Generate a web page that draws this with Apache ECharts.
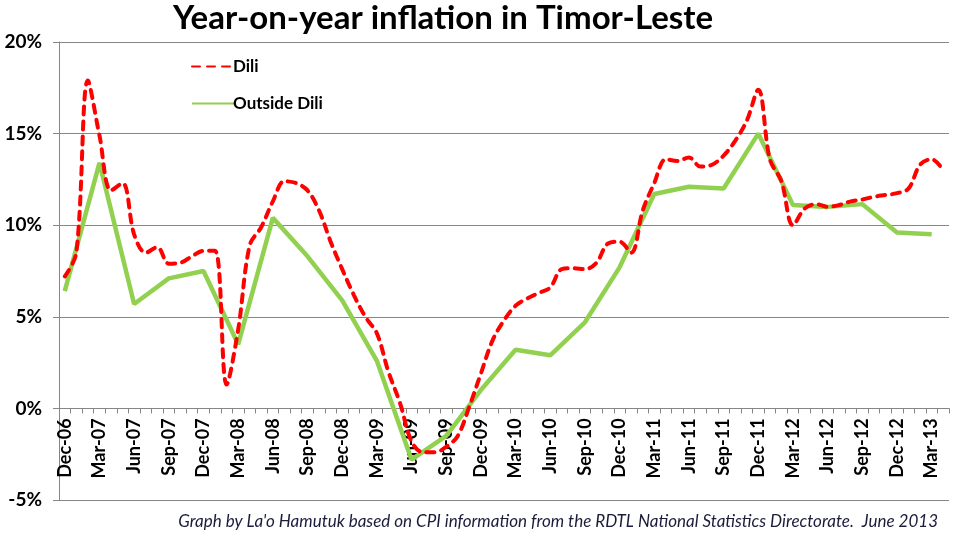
<!DOCTYPE html>
<html>
<head>
<meta charset="utf-8">
<script src="https://cdn.jsdelivr.net/npm/echarts@6/dist/echarts.min.js"></script>
<style>
html,body{margin:0;padding:0;background:#fff;}
#chart{width:954px;height:537px;}
</style>
</head>
<body>
<div id="chart"></div>
<script>
// Monthly categories: Dec-06 .. Apr-13
const monthNames = ['Jan','Feb','Mar','Apr','May','Jun','Jul','Aug','Sep','Oct','Nov','Dec'];
const startYear = 2006, startMonth = 11, monthCount = 77;

// Dili, monthly year-on-year inflation (%)
const dili = [
  7.2, 8.5, 17.9, 14.9, 11.9, 12.3, 9.5, 8.5, 8.8, 7.9, 7.95, 8.3,
  8.6, 8.6, 1.3, 4.3, 8.9, 9.9, 11.3, 12.4, 12.3, 11.9, 10.8, 9.1,
  7.6, 6.2, 5.0, 4.1, 2.0, 0.3, -1.8, -2.4, -2.4, -2.1, -1.5, 0.1,
  1.9, 3.7, 4.8, 5.6, 6.0, 6.3, 6.6, 7.6, 7.65, 7.6, 7.95, 9.0,
  9.1, 8.5, 10.8, 12.3, 13.6, 13.5, 13.7, 13.2, 13.3, 13.8, 14.6, 15.7,
  17.4, 13.6, 12.4, 10.0, 10.9, 11.15, 11.0, 11.1, 11.3, 11.4, 11.55, 11.65,
  11.75, 12.0, 13.3, 13.6, 13.0
];

// Outside Dili, quarterly (Dec-06, Mar-07, ... Mar-13)
const outsideDiliQuarterly = [
  6.4, 13.4, 5.7, 7.1, 7.5, 3.5, 10.4, 8.3, 5.9, 2.6, -2.8, -1.5,
  1.0, 3.2, 2.9, 4.7, 7.7, 11.7, 12.1, 12.0, 15.0, 11.1, 11.0, 11.15,
  9.6, 9.5
];

const yTicks = { min: -5, max: 20, interval: 5 };

const categories = [];
for (let i = 0; i < monthCount; i++) {
  const m = (startMonth + i) % 12;
  const y = startYear + Math.floor((startMonth + i) / 12);
  categories.push(monthNames[m] + '-' + String(y % 100).padStart(2, '0'));
}
const outsideDili = categories.map((c, i) => (i % 3 === 0 && outsideDiliQuarterly[i / 3] !== undefined) ? outsideDiliQuarterly[i / 3] : null);

const chart = echarts.init(document.getElementById('chart'));
const FONT = 'Lato';
const gridTop = 42, gridBottom = 37, H = 537;
const plotH = H - gridTop - gridBottom;
const zeroOffset = plotH * (0 - yTicks.min) / (yTicks.max - yTicks.min);

chart.setOption({
  animation: false,
  backgroundColor: '#fff',
  title: {
    text: 'Year-on-year inflation in Timor-Leste',
    left: 438, top: -3, textAlign: 'center',
    textStyle: { fontFamily: FONT, fontWeight: 'bold', fontSize: 33, color: '#000' }
  },
  legend: {
    orient: 'vertical', left: 186, top: 53, itemWidth: 42, itemHeight: 14, itemGap: 20,
    itemStyle: { opacity: 0 },
    textStyle: { fontFamily: FONT, fontWeight: 'bold', fontSize: 17, color: '#000', padding: [0,0,0,-6] },
    data: ['Dili', 'Outside Dili']
  },
  grid: { left: 59, right: 5, top: gridTop, bottom: gridBottom, containLabel: false, outerBoundsMode: 'none' },
  xAxis: {
    type: 'category', data: categories, boundaryGap: true,
    offset: -zeroOffset,
    axisLine: { onZero: false, lineStyle: { color: '#868686', width: 1 } },
    axisTick: { show: true, interval: 0, length: 5, lineStyle: { color: '#868686' } },
    axisLabel: { interval: 2, rotate: 90, margin: 10, fontFamily: FONT, fontWeight: 'bold', fontSize: 18, color: '#000' }
  },
  yAxis: {
    type: 'value', min: yTicks.min, max: yTicks.max, interval: yTicks.interval,
    axisLine: { show: true, lineStyle: { color: '#868686' } },
    axisTick: { show: true, length: 6, lineStyle: { color: '#868686' } },
    splitLine: { lineStyle: { color: '#868686', width: 1 } },
    axisLabel: { formatter: '{value}%', margin: 17, fontFamily: FONT, fontWeight: 'bold', fontSize: 19, color: '#000' }
  },
  series: [
    {
      name: 'Dili', type: 'line', data: dili, smooth: 0.35, symbol: 'none',
      lineStyle: { color: '#FF0000', width: 4, type: [8, 7], cap: 'round' },
      itemStyle: { color: '#FF0000' }, z: 3
    },
    {
      name: 'Outside Dili', type: 'line', data: outsideDili, connectNulls: true, symbol: 'none',
      lineStyle: { color: '#92D050', width: 4.5 }, itemStyle: { color: '#92D050' }, z: 2
    }
  ],
  graphic: [{
    type: 'text', right: 16, top: 513,
    style: {
      text: "Graph by La'o Hamutuk based on CPI information from the RDTL National Statistics Directorate.  June 2013",
      font: 'italic 17px ' + FONT, fill: '#1b1b3a'
    }
  }]
});
</script>
</body>
</html>
